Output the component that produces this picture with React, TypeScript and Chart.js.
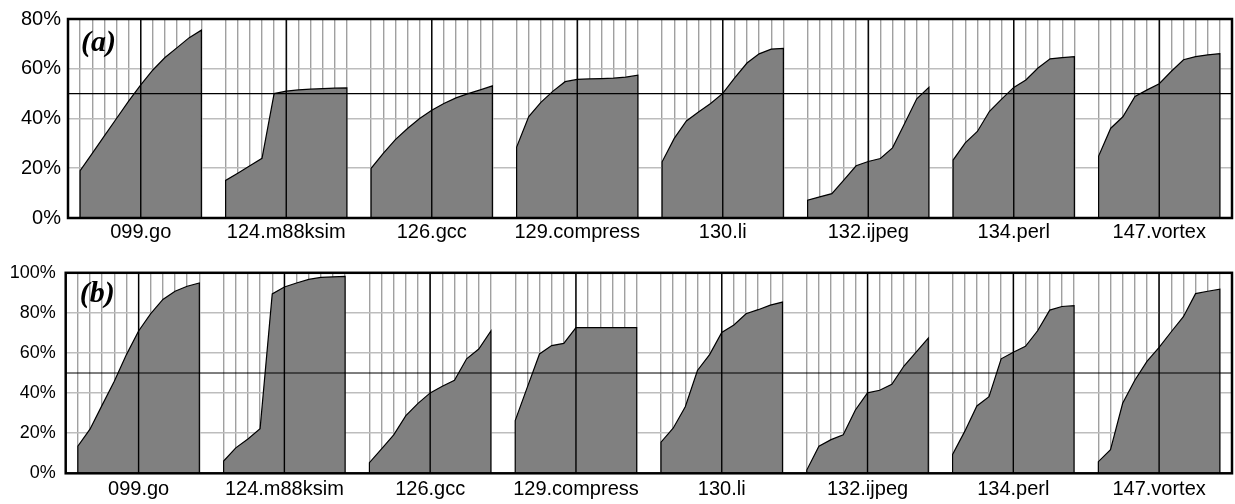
import React, { useEffect, useRef } from "react";
import { Chart, registerables } from "chart.js";

Chart.register(...registerables);

// ---------- data ----------
const categories = [
  "099.go",
  "124.m88ksim",
  "126.gcc",
  "129.compress",
  "130.li",
  "132.ijpeg",
  "134.perl",
  "147.vortex",
];

// panel (a)
const a_go = [19, 26, 33, 40, 47, 53.5, 59.5, 64.5, 68.5, 72.5, 75.5];
const a_m88ksim = [15.1, 18, 21, 24, 50, 51, 51.5, 51.8, 52, 52.2, 52.3];
const a_gcc = [20, 26, 31.5, 36, 40, 43.3, 46, 48.3, 50, 51.5, 53.1];
const a_compress = [28.5, 40.8, 46.5, 51, 54.8, 55.7, 55.9, 56.0, 56.2, 56.6, 57.4];
const a_li = [22.6, 32, 39, 42.6, 46, 50.1, 56.4, 62.3, 66, 67.9, 68.2];
const a_ijpeg = [7.2, 8.5, 9.8, 15.3, 21, 22.7, 23.9, 28.2, 38, 47.9, 52.5];
const a_perl = [23.3, 30.2, 34.8, 42.9, 47.8, 52.5, 55.5, 60.3, 64, 64.5, 64.9];
const a_vortex = [24.9, 36.1, 40.7, 48.9, 51.5, 54, 59, 63.6, 64.9, 65.6, 66.1];

// panel (b)
const b_go = [13.5, 22, 34, 45.9, 59.2, 71, 79.6, 86.7, 90.8, 93.3, 94.9];
const b_m88ksim = [6.1, 12.7, 17.1, 22.2, 89.5, 92.9, 94.9, 96.7, 97.7, 98, 98.2];
const b_gcc = [5.3, 12.2, 19.2, 28.8, 34.9, 40.1, 43.4, 46.4, 57.1, 62, 71];
const b_compress = [26.3, 43, 59.5, 63.7, 64.8, 72.7, 72.7, 72.7, 72.7, 72.7, 72.7];
const b_li = [15.5, 22.5, 33.2, 51.3, 59.2, 70.2, 74, 79.6, 81.6, 83.9, 85.4];
const b_ijpeg = [1.6, 13.5, 16.8, 19.2, 31.6, 40.1, 41.4, 44.4, 53.5, 60.4, 67.4];
const b_perl = [9.4, 20.9, 33.6, 38.2, 57.1, 60.4, 63.3, 71.1, 81.4, 83.2, 83.6];
const b_vortex = [5.8, 11.8, 34.9, 46.4, 55.8, 62.8, 70.6, 78.1, 89.6, 90.8, 91.8];

const seriesA = [a_go, a_m88ksim, a_gcc, a_compress, a_li, a_ijpeg, a_perl, a_vortex];
const seriesB = [b_go, b_m88ksim, b_gcc, b_compress, b_li, b_ijpeg, b_perl, b_vortex];

const yTicksA = ["0%", "20%", "40%", "60%", "80%"];
const yTicksB = ["0%", "20%", "40%", "60%", "80%", "100%"];
const yStep = 20;
const refLine = 50;

// x layout: each benchmark occupies a slot block of 12 units, 11 samples
const SLOTS_PER_GROUP = 12;
const SAMPLE_OFFSET = 1;
const CENTER_SAMPLE = 5;

type Geom = {
  top: number;
  yWidth: number;
  xHeight: number;
  yFont: number;
  yPad: number;
  xFont: number;
  xPad: number;
  labelDx: number;
  labelDy: number;
  labelSize: number;
};

function buildConfig(series: number[][], yTicks: string[], label: string, g: Geom): any {
  const yMax = (yTicks.length - 1) * yStep;
  const xMax = categories.length * SLOTS_PER_GROUP;
  const samplePos: number[] = [];
  const datasets = series.map((vals, gi) => {
    const xs = vals.map((_, i) => gi * SLOTS_PER_GROUP + SAMPLE_OFFSET + i);
    samplePos.push(...xs);
    const pts = [
      { x: xs[0], y: 0 },
      ...vals.map((v, i) => ({ x: xs[i], y: v })),
      { x: xs[xs.length - 1], y: 0 },
    ];
    return {
      label: categories[gi],
      data: pts,
      fill: "origin",
      backgroundColor: "#808080",
      borderColor: "#000000",
      borderWidth: 1.2,
      pointRadius: 0,
      tension: 0,
    };
  });
  const centers = categories.map((_, gi) => gi * SLOTS_PER_GROUP + SAMPLE_OFFSET + CENTER_SAMPLE);

  const overlay = {
    id: "overlay",
    afterDatasetsDraw(chart: any) {
      const { ctx, chartArea: a, scales } = chart;
      const x = scales.x;
      const y = scales.y;
      ctx.save();
      ctx.strokeStyle = "#000";
      ctx.lineWidth = 1.4;
      centers.forEach((c) => {
        const px = x.getPixelForValue(c);
        ctx.beginPath();
        ctx.moveTo(px, a.top);
        ctx.lineTo(px, a.bottom);
        ctx.stroke();
      });
      ctx.lineWidth = 1.1;
      const py = y.getPixelForValue(refLine);
      ctx.beginPath();
      ctx.moveTo(a.left, py);
      ctx.lineTo(a.right, py);
      ctx.stroke();
      ctx.lineWidth = 2.5;
      ctx.strokeRect(a.left, a.top, a.right - a.left, a.bottom - a.top);
      ctx.fillStyle = "#000";
      ctx.font = `italic bold ${g.labelSize}px "Liberation Serif"`;
      ctx.textBaseline = "alphabetic";
      ctx.textAlign = "left";
      ctx.fillText(label, a.left + g.labelDx, a.top + g.labelDy);
      ctx.restore();
    },
  };

  return {
    type: "line",
    data: { datasets },
    plugins: [overlay],
    options: {
      animation: false,
      responsive: false,
      events: [],
      layout: { padding: { top: g.top, right: 3, left: 0, bottom: 0 } },
      plugins: { legend: { display: false }, tooltip: { enabled: false } },
      scales: {
        x: {
          type: "linear",
          min: 0,
          max: xMax,
          offset: false,
          afterBuildTicks: (scale: any) => {
            scale.ticks = samplePos.map((v) => ({ value: v }));
          },
          afterFit: (scale: any) => {
            scale.height = g.xHeight;
          },
          grid: { color: "#a0a0a0", lineWidth: 1.4, drawTicks: false },
          border: { display: false },
          ticks: {
            autoSkip: false,
            maxRotation: 0,
            minRotation: 0,
            padding: g.xPad,
            color: "#000",
            font: { family: "Liberation Sans", size: g.xFont },
            callback: (v: number) => {
              const idx = centers.indexOf(v);
              return idx >= 0 ? categories[idx] : "";
            },
          },
        },
        y: {
          type: "linear",
          min: 0,
          max: yMax,
          afterFit: (scale: any) => {
            scale.width = g.yWidth;
          },
          grid: {
            color: (c: any) =>
              c.tick && (c.tick.value === 0 || c.tick.value === yMax) ? "rgba(0,0,0,0)" : "#bdbdbd",
            lineWidth: 1.6,
            drawTicks: false,
          },
          border: { display: false },
          ticks: {
            stepSize: yStep,
            padding: g.yPad,
            color: "#000",
            font: { family: "Liberation Sans", size: g.yFont },
            callback: (v: number) => yTicks[Math.round(v / yStep)] ?? "",
          },
        },
      },
    },
  };
}

const geomA: Geom = {
  top: 15,
  yWidth: 68,
  xHeight: 34,
  yFont: 20,
  yPad: 7,
  xFont: 20,
  xPad: 2,
  labelDx: 13,
  labelDy: 32,
  labelSize: 30,
};

const geomB: Geom = {
  top: 18.7,
  yWidth: 65.7,
  xHeight: 30.7,
  yFont: 18,
  yPad: 10,
  xFont: 20,
  xPad: 4,
  labelDx: 14,
  labelDy: 29,
  labelSize: 30,
};

export default function App() {
  const refA = useRef<HTMLCanvasElement | null>(null);
  const refB = useRef<HTMLCanvasElement | null>(null);

  useEffect(() => {
    const ca = new Chart(refA.current as HTMLCanvasElement, buildConfig(seriesA, yTicksA, "(a)", geomA));
    const cb = new Chart(refB.current as HTMLCanvasElement, buildConfig(seriesB, yTicksB, "(b)", geomB));
    return () => {
      ca.destroy();
      cb.destroy();
    };
  }, []);

  return (
    <div
      style={{
        position: "fixed",
        left: 0,
        top: 0,
        width: 1235,
        height: 504,
        background: "#fff",
      }}
    >
      <canvas
        ref={refA}
        width={1235}
        height={252}
        style={{ position: "absolute", left: 0, top: 0, width: 1235, height: 252 }}
      />
      <canvas
        ref={refB}
        width={1235}
        height={252}
        style={{ position: "absolute", left: 0, top: 252, width: 1235, height: 252 }}
      />
    </div>
  );
}
